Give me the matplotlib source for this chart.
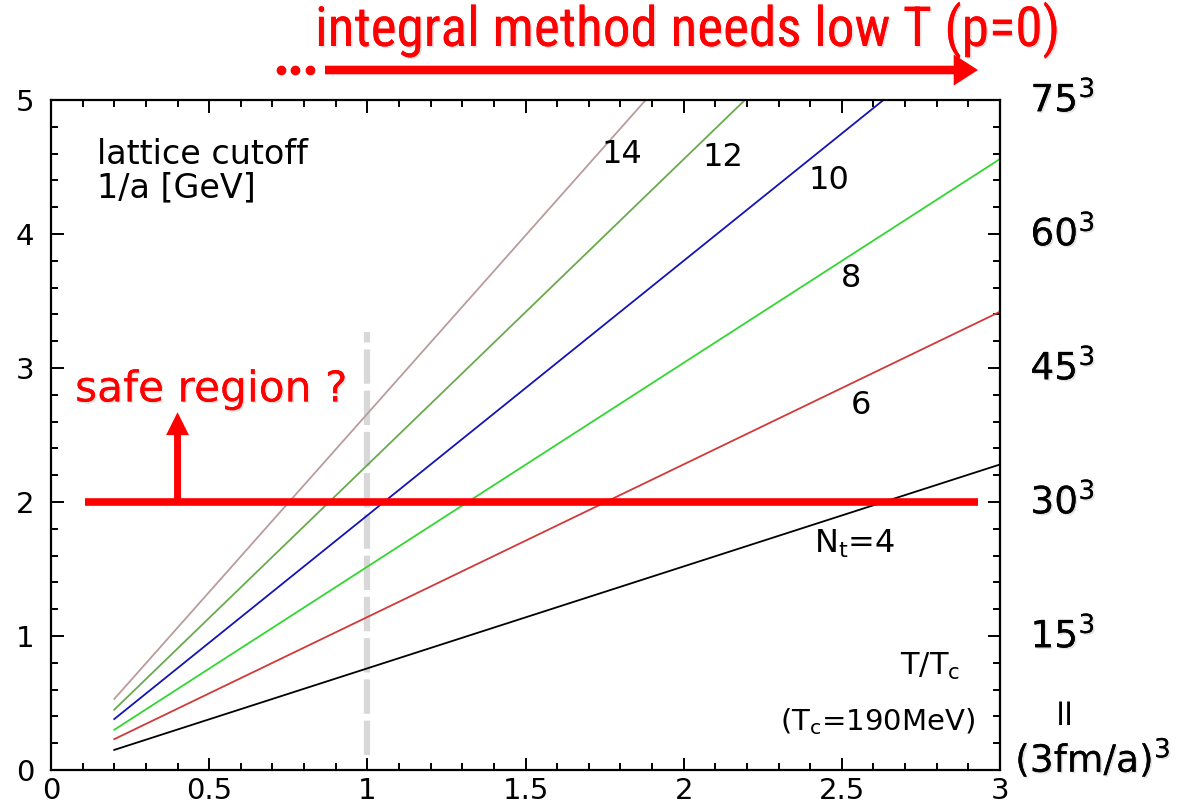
import numpy as np
import matplotlib
matplotlib.use('Agg')
import matplotlib.pyplot as plt
import matplotlib.patheffects as pe
from matplotlib import font_manager
from matplotlib.ticker import MultipleLocator, FuncFormatter

# lattice cutoff lines 1/a [GeV] vs T/Tc, one per N_t
nt_values = [4, 6, 8, 10, 12, 14]
x_start = [0.2, 0.2, 0.2, 0.2, 0.2, 0.2]
x_end = [3.0, 3.0, 3.0, 3.0, 3.0, 3.0]
y_start = [0.15, 0.23, 0.30, 0.38, 0.45, 0.53]
y_end = [2.28, 3.42, 4.56, 5.70, 6.84, 7.98]
line_colors = ['#000000', '#d03a3a', '#33d633', '#1414b4', '#6aaa4e', '#bb9c9c']

# where the N_t labels sit
label_text = ['N$_\\mathrm{t}$=4', '6', '8', '10', '12', '14']
label_x = [2.54, 2.56, 2.53, 2.46, 2.125, 1.805]
label_y = [1.69, 2.72, 3.67, 4.40, 4.57, 4.59]

# right side lattice volumes
vol_labels = ['15$^3$', '30$^3$', '45$^3$', '60$^3$', '75$^3$']
vol_y = [1, 2, 3, 4, 5]

safe_cut = 2.0
tc_line_x = 1.0

plt.rcParams['font.family'] = ['DejaVu Sans']
plt.rcParams['mathtext.fontset'] = 'dejavusans'


def pick_narrow():
    # a condensed face if one is there, else plain DejaVu
    for name in ['Liberation Sans Narrow', 'DejaVu Sans Condensed', 'Roboto Condensed',
                 'Open Sans Condensed']:
        try:
            font_manager.findfont(font_manager.FontProperties(family=name),
                                  fallback_to_default=False)
            return name
        except Exception:
            pass
    return 'DejaVu Sans'


fig = plt.figure(figsize=(12, 8.07), dpi=100)
ax = fig.add_axes([51 / 1200, 37 / 807, 949 / 1200, 670 / 807])

for i in range(len(nt_values)):
    ax.plot([x_start[i], x_end[i]], [y_start[i], y_end[i]], color=line_colors[i], lw=1.3)
    ax.text(label_x[i], label_y[i], label_text[i], fontsize=23, ha='center', va='center')

# T = Tc marker
ax.plot([tc_line_x, tc_line_x], [0.11, 3.27], color='#d8d8d8', lw=4.5,
        linestyle=(0, (5.5, 1.1)), zorder=1)

ax.set_xlim(0, 3)
ax.set_ylim(0, 5)
ax.xaxis.set_major_locator(MultipleLocator(0.5))
ax.xaxis.set_minor_locator(MultipleLocator(0.1))
ax.yaxis.set_major_locator(MultipleLocator(1))
ax.yaxis.set_minor_locator(MultipleLocator(0.2))
fmt = FuncFormatter(lambda v, p: '%g' % v)
ax.xaxis.set_major_formatter(fmt)
ax.yaxis.set_major_formatter(fmt)
ax.tick_params(which='both', direction='in', top=True, right=True, width=1.4,
               labelsize=21)
ax.tick_params(which='major', length=9)
ax.tick_params(which='minor', length=5)
ax.tick_params(axis='y', pad=12)
ax.tick_params(axis='x', pad=5)
for s in ax.spines.values():
    s.set_linewidth(1.6)

ax.text(0.145, 4.72, 'lattice cutoff\n1/a [GeV]', fontsize=24, ha='left', va='top',
        linespacing=1.05)
ax.text(2.874, 0.77, 'T/T$_\\mathrm{c}$', fontsize=22, ha='right', va='center')
ax.text(2.921, 0.36, '(T$_\\mathrm{c}$=190MeV)', fontsize=21, ha='right', va='center')

shadow = [pe.withSimplePatchShadow(offset=(1.2, -1.2), shadow_rgbFace='gray', alpha=0.22),
          pe.Normal()]

# safe region marker
ax.plot([0.107, 2.93], [safe_cut, safe_cut], color='red', lw=5.5, solid_capstyle='butt',
        clip_on=False, zorder=5)
ax.annotate('', xy=(0.40, 2.67), xytext=(0.40, safe_cut),
            arrowprops=dict(arrowstyle='simple,head_length=1.65,head_width=1.65,tail_width=0.5',
                            mutation_scale=10, color='red', lw=0, shrinkA=0, shrinkB=0),
            zorder=5)
ax.text(0.076, 2.84, 'safe region ?', fontsize=30.5, color='red', ha='left', va='center',
        path_effects=shadow)

# right hand volume labels
trans = ax.get_yaxis_transform()
for lab, yv in zip(vol_labels, vol_y):
    ax.text(1.032, yv, lab, transform=trans, fontsize=27, ha='left', va='center',
            path_effects=shadow, clip_on=False)
ax.text(1.066, 0.46, '=', transform=trans, fontsize=27, rotation=90, ha='center',
        va='center', clip_on=False)
ax.text(1.016, 0.09, '(3fm/a)$^3$', transform=trans, fontsize=27, ha='left', va='center',
        path_effects=shadow, clip_on=False)

# top annotation, sized to span the same width as in the slide
top = fig.text(315 / 1200, 1 - 30 / 807, 'integral method needs low T (p=0)',
               family=[pick_narrow(), 'DejaVu Sans'], fontsize=40, color='red',
               ha='left', va='center', path_effects=shadow)
fig.canvas.draw()
w = top.get_window_extent().width
top.set_fontsize(40 * 745 / w)

over = fig.add_axes([0, 0, 1, 1], facecolor='none')
over.set_xlim(0, 1200)
over.set_ylim(807, 0)
over.axis('off')
over.plot([281, 295, 310], [70, 70, 70], 'o', color='red', ms=6)
over.annotate('', xy=(978, 70), xytext=(325, 70),
              arrowprops=dict(arrowstyle='simple,head_length=1.75,head_width=2.25,tail_width=0.62',
                              mutation_scale=10, color='red', lw=0, shrinkA=0, shrinkB=0))

fig.savefig('out.png', dpi=100)
